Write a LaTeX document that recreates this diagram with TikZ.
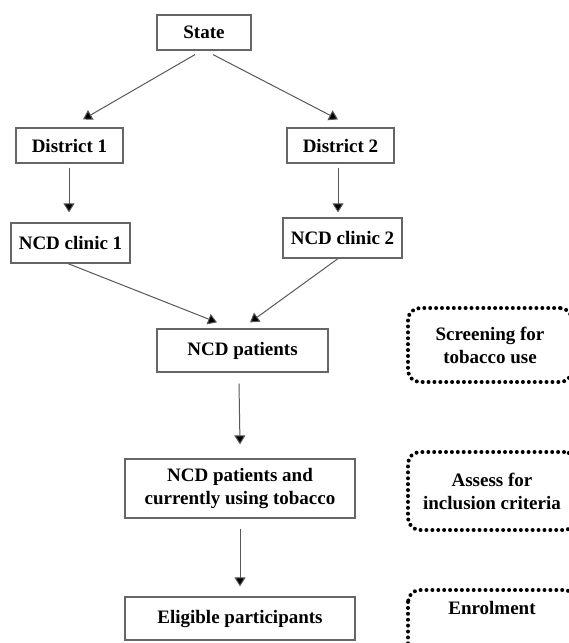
\documentclass[tikz,border=0pt]{standalone}
\usepackage{fontspec}
\setmainfont{Liberation Serif}
\usetikzlibrary{arrows.meta}
\begin{document}
\begin{tikzpicture}[x=1pt,y=-1pt,
  box/.style={draw=black!60, line width=1.2pt, inner sep=0pt, align=center,
    font=\fontsize{19}{23}\selectfont\bfseries},
  dotbox/.style={draw=black, line width=4pt, dash pattern=on 0pt off 5.9pt,
    line cap=round, rounded corners=12pt, inner sep=0pt, align=center,
    font=\fontsize{19}{23}\selectfont\bfseries},
  lbl/.style={inner sep=0pt, align=center, font=\fontsize{19}{23}\selectfont\bfseries},
  arr/.style={draw=black!65, line width=1pt, -{Triangle[width=11pt,length=9pt,fill=black]}}]
\useasboundingbox (0,0) rectangle (569,643);
\clip (0,0) rectangle (569,643);
\fill[white] (0,0) rectangle (569,643);

\node[box, minimum width=94pt, minimum height=35pt] (state) at (204,32.5) {State};
\node[box, minimum width=107pt, minimum height=35pt] (d1) at (69.5,145.5) {District 1};
\node[box, minimum width=107pt, minimum height=35pt] (d2) at (340.5,145.5) {District 2};
\node[box, minimum width=119pt, minimum height=40pt] (c1) at (70.5,243) {NCD clinic 1};
\node[box, minimum width=119pt, minimum height=40pt] (c2) at (342.5,238) {NCD clinic 2};
\node[box, minimum width=171pt, minimum height=43pt] (np) at (242.5,350.5) {NCD patients};
\node[box, minimum width=230pt, minimum height=59pt] (npt) at (240,488.5) {NCD patients and\\currently using tobacco};
\node[box, minimum width=230pt, minimum height=43pt] (ep) at (240,618.5) {Eligible participants};

\node[dotbox, minimum width=164pt, minimum height=74pt] (scr) at (490,345) {Screening for\\tobacco use};
\node[dotbox, minimum width=168pt, minimum height=78pt] (ass) at (492,491) {Assess for\\inclusion criteria};
\draw[dotbox] (408,590) rectangle (576,690);
\node[lbl] (enr) at (492,608) {Enrolment};

\draw[arr] ([xshift=-9pt,yshift=-4pt]state.south) -- ([xshift=13.5pt,yshift=8pt]d1.north);
\draw[arr] ([xshift=9pt,yshift=-4pt]state.south) -- ([xshift=-2.5pt,yshift=8pt]d2.north);
\draw[arr] ([xshift=-0.5pt,yshift=-4pt]d1.south) -- ([xshift=-1.5pt,yshift=10pt]c1.north);
\draw[arr] ([xshift=-2.5pt,yshift=-4pt]d2.south) -- ([xshift=-4.5pt,yshift=5pt]c2.north);
\draw[arr] ([xshift=-2.5pt]c1.south) -- ([xshift=-25.5pt,yshift=6pt]np.north);
\draw[arr] ([xshift=-4.5pt]c2.south) -- ([xshift=7.5pt,yshift=6pt]np.north);
\draw[arr] ([xshift=-3.5pt,yshift=-11pt]np.south) -- ([yshift=14pt]npt.north);
\draw[arr] ([yshift=-10pt]npt.south) -- ([yshift=10pt]ep.north);
\end{tikzpicture}
\end{document}
